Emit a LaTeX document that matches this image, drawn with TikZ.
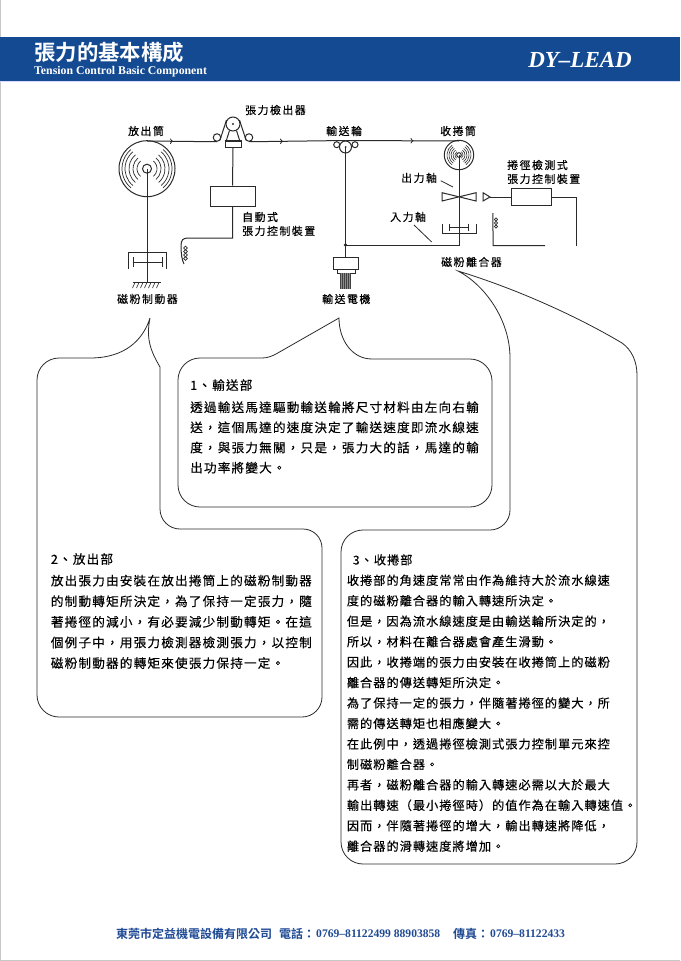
\documentclass[tikz,border=0pt]{standalone}
\usepackage{fontspec}
\setmainfont{Liberation Serif}
\newfontfamily\cjkhead{Noto Sans CJK TC Bold}
\newfontfamily\cjkfoot{Noto Sans CJK TC Bold}
\newfontfamily\cjklabel[LetterSpace=14,FakeBold=.35]{Noto Sans CJK TC}
\newfontfamily\cjkbody[LetterSpace=9.5,FakeBold=.25]{Noto Sans CJK TC}
\newfontfamily\cjkbodyb[LetterSpace=8.2,FakeBold=.25]{Noto Sans CJK TC}
\usetikzlibrary{arrows,decorations.markings}
\definecolor{bandblue}{HTML}{134A92}
\definecolor{footblue}{HTML}{1F4A94}
\definecolor{inkline}{HTML}{2A2A2A}
\tikzset{
  wire/.style={draw=inkline,line width=1pt},
  bubble/.style={draw=inkline,line width=.8pt},
  unit/.style={draw=inkline,line width=1pt,inner sep=0pt,fill=white},
  wheel/.style={circle,draw=inkline,line width=1pt,inner sep=0pt},
  lbl/.style={anchor=west,inner sep=0pt,text=black,font=\cjklabel\fontsize{10.9}{13}\selectfont},
  foot/.style={anchor=west,inner sep=0pt,text=footblue},
  para/.style={anchor=north west,inner sep=0pt,align=left,text=black,font=\cjkbody\fontsize{12.6}{#1}\selectfont},
  parab/.style={anchor=north west,inner sep=0pt,align=left,text=black,font=\cjkbodyb\fontsize{12.2}{20.45}\selectfont},
  flow/.style={decoration={markings,mark=at position #1 with {\arrow{>}}},postaction={decorate}}
}
\begin{document}
\begin{tikzpicture}[x=1pt,y=-1pt]
\useasboundingbox (0,0) rectangle (680,961);
\draw[black!22,line width=1pt] (.5,0)--(.5,961);
\draw[black!22,line width=1pt] (0,960.5)--(680,960.5);

% header
\fill[bandblue] (0,37) rectangle (680,81);
\draw[blue!15,line width=.6pt] (0,81.3)--(680,81.3);
\node[anchor=west,inner sep=0pt,text=white,font=\cjkhead\fontsize{21.4}{24}\selectfont] (title) at (34,52.5) {張力的基本構成};
\node[anchor=west,inner sep=0pt,text=white,font=\bfseries\fontsize{11.8}{13}\selectfont] (subtitle) at (34,71.5) {Tension Control Basic Component};
\node[anchor=east,inner sep=0pt,text=white,font=\bfseries\itshape\fontsize{23}{25}\selectfont] (brand) at (632,59.5) {DY–LEAD};

% pay-off side
\node[wheel,minimum size=56pt] (payoff) at (147,168.7) {};
\node[wheel,minimum size=9pt] (payoffhub) at (147,168.7) {};
\foreach \r in {10,14,18,22,25}{
  \draw[wire,line width=.7pt] (147,168.7) ++(-50:\r) arc[start angle=-50,end angle=50,radius=\r];
  \draw[wire,line width=.7pt] (147,168.7) ++(130:\r) arc[start angle=130,end angle=230,radius=\r];
}
\coordinate (brakefoot) at (147,282);
\draw[wire] (payoff.center)--(brakefoot);
\draw[wire] (128,269)--(128,252)--(166,252)--(166,269);
\draw[wire] (133,257)--(133,267);
\draw[wire] (162,257)--(162,267);
\draw[wire] (133,262)--(162,262);
\draw[wire] (133,282)--(161,282);
\foreach \x in {135,139,...,159}{
  \draw[wire,line width=.6pt] (\x,282.5)--(\x-2.5,288);
}

% tension detector
\node[wheel,minimum size=14pt] (sensor) at (233,124) {};
\fill[inkline] (sensor.center) circle (1.1);
\node[wheel,minimum size=7.5pt] (sensorl) at (217,137.5) {};
\node[wheel,minimum size=7.5pt] (sensorr) at (249,137.5) {};
\draw[wire] (220,140)--(226.5,120);
\draw[wire] (246,140)--(239.5,120);
\draw[wire] (229.5,130.5)--(226,141.5);
\draw[wire] (236.5,130.5)--(240,141.5);
\node[unit,minimum width=16pt,minimum height=6pt] (sensorblock) at (233,144.7) {};
\draw[inkline,line width=1.6pt] (sensorblock.north west)--(sensorblock.north east);
\node[unit,minimum width=45pt,minimum height=20pt] (autobox) at (232.5,196) {};
\draw[wire] (sensorblock.south)--(autobox.north);
\coordinate (coilend) at (184,264);
\draw[wire] (autobox.south)--(232.5,238)--(188,238) .. controls (183,238) and (181,240) .. (181,246) .. controls (181,254) and (182,260) .. (coilend);
\foreach \y in {248,251.5,255,258.5}{
  \draw[wire,line width=.7pt] (185.5,\y) circle (1.8);
}

% transfer roll and motor
\node[wheel,minimum size=12pt] (drive) at (345.5,147) {};
\fill[inkline] (drive.center) circle (1);
\node[wheel,minimum size=6pt] (drivel) at (336.7,144.7) {};
\node[wheel,minimum size=6pt] (driver) at (355,144.7) {};
\node[unit,minimum width=25pt,minimum height=12pt] (motor) at (345.5,263) {};
\node[unit,minimum width=18pt,minimum height=4pt] (motorneck) at (346,271) {};
\fill[black!45] (340,273) rectangle (351,289);
\foreach \x in {340,342,...,350}{
  \draw[black!75,line width=.6pt] (\x+.5,273)--(\x+.5,289);
}
\draw[wire] (drive.center)--(motor.north);
\coordinate (branch) at (345.5,245);
\fill[inkline] (branch) circle (1.8);

% web
\coordinate (webstart) at (147,141);
\coordinate (webend) at (459,141);
\draw[wire,flow=26pt] (webstart)--(sensorl.south);
\draw[wire,flow=34pt] (sensorr.south)--(drive.north);
\draw[wire,flow=68pt] (drive.north)--(webend);

% take-up side
\node[wheel,minimum size=29.4pt] (takeup) at (459,155) {};
\node[wheel,minimum size=4.6pt] (takeuphub) at (459,155) {};
\foreach \r in {4,6,8,10,12}{
  \draw[wire,line width=.6pt] (459,155) ++(-55:\r) arc[start angle=-55,end angle=55,radius=\r];
  \draw[wire,line width=.6pt] (459,155) ++(125:\r) arc[start angle=125,end angle=235,radius=\r];
}
\coordinate (clutchin) at (459,245);
\draw[wire] (takeup.center)--(clutchin)--(branch);
\draw[wire] (442,192.7)--(442,201)--(476,192.7)--(476,201)--cycle;
\draw[wire] (442,224)--(442,233.3)--(476.7,233.3)--(476.7,224);
\draw[wire] (449,223.5)--(449,231);
\draw[wire] (468,223.5)--(468,231);
\draw[wire] (449,227.3)--(468,227.3);
\draw[wire,line width=.8pt] (440.7,180.7)--(453,187);
\draw[wire,line width=.8pt] (414,225)--(431.7,242);

% diameter controller
\node[unit,minimum width=40pt,minimum height=17.7pt] (diabox) at (531,196.9) {};
\draw[wire] (483,192.7)--(483,201)--(490,197)--cycle;
\draw[wire] (490,197)--(diabox.west |- 0,197);
\coordinate (diaout) at (576.7,197);
\draw[wire] (diabox.east |- 0,197)--(diaout)--(576.7,245.7);
\coordinate (coilb) at (493,213);
\draw[wire] (545,245.7)--(493,245.7)--(493,231) .. controls (492.5,224) and (493,218) .. (coilb);
\foreach \y in {219.5,223,226.5}{
  \draw[wire,line width=.7pt] (496,\y) circle (1.7);
}

% labels
\node[lbl] (lbsensor) at (245,110) {張力檢出器};
\node[lbl] (lbpayoff) at (128,131) {放出筒};
\node[lbl] (lbbrake) at (117,299) {磁粉制動器};
\node[lbl] (lbauto) at (242,217) {自動式};
\node[lbl] (lbautob) at (242,231) {張力控制裝置};
\node[lbl] (lbdrive) at (326,131) {輸送輪};
\node[lbl] (lbmotor) at (322,299) {輸送電機};
\node[lbl] (lbtakeup) at (440,131) {收捲筒};
\node[lbl] (lbout) at (401,178) {出力軸};
\node[lbl] (lbin) at (390,217) {入力軸};
\node[lbl] (lbdia) at (507,165) {捲徑檢測式};
\node[lbl] (lbdiab) at (507,179) {張力控制裝置};
\node[lbl] (lbclutch) at (441,262) {磁粉離合器};

% callouts
\draw[bubble] (178,380) arc[start angle=180,end angle=270,radius=22]--(262,358) .. controls (268,358) and (272,356) .. (276,354)--(339,318) .. controls (339,340) and (352,359) .. (372,359)--(470,359) arc[start angle=270,end angle=360,radius=22]--(492,485) arc[start angle=0,end angle=90,radius=22]--(200,507) arc[start angle=90,end angle=180,radius=22]--cycle;

\draw[bubble] (37,380) arc[start angle=180,end angle=270,radius=22]--(90,358) .. controls (125,358) and (143,340) .. (150,318) .. controls (146,338) and (150,350) .. (160,367)--(160,509) arc[start angle=180,end angle=90,radius=20]--(303,529) arc[start angle=270,end angle=360,radius=19]--(322,697) arc[start angle=0,end angle=90,radius=20]--(59,717) arc[start angle=90,end angle=180,radius=22]--cycle;

\draw[bubble] (341,552) arc[start angle=180,end angle=270,radius=22]--(490,530) arc[start angle=90,end angle=0,radius=20]--(510,358) .. controls (510,320) and (485,285) .. (458,271) .. controls (520,290) and (580,318) .. (622,343) .. controls (632,350) and (637,362) .. (637,375)--(637,842) arc[start angle=0,end angle=90,radius=22]--(363,864) arc[start angle=90,end angle=180,radius=22]--cycle;

% callout texts
\node[para=20.15] (parafeed) at (190,379) {1、輸送部\\[2pt]
透過輸送馬達驅動輸送輪將尺寸材料由左向右輸\\
送，這個馬達的速度決定了輸送速度即流水線速\\
度，與張力無關，只是，張力大的話，馬達的輸\\
出功率將變大。};
\node[para=20.6] (parapay) at (50.7,553) {2、放出部\\[1pt]
放出張力由安裝在放出捲筒上的磁粉制動器\\
的制動轉矩所決定，為了保持一定張力，隨\\
著捲徑的減小，有必要減少制動轉矩。在這\\
個例子中，用張力檢測器檢測張力，以控制\\
磁粉制動器的轉矩來使張力保持一定。};
\node[parab] (paratake) at (346.7,554) {\hspace*{6pt}3、收捲部\\
收捲部的角速度常常由作為維持大於流水線速\\
度的磁粉離合器的輸入轉速所決定。\\
但是，因為流水線速度是由輸送輪所決定的，\\
所以，材料在離合器處會產生滑動。\\
因此，收捲端的張力由安裝在收捲筒上的磁粉\\
離合器的傳送轉矩所決定。\\
為了保持一定的張力，伴隨著捲徑的變大，所\\
需的傳送轉矩也相應變大。\\
在此例中，透過捲徑檢測式張力控制單元來控\\
制磁粉離合器。\\
再者，磁粉離合器的輸入轉速必需以大於最大\\
輸出轉速（最小捲徑時）的值作為在輸入轉速值。\\
因而，伴隨著捲徑的增大，輸出轉速將降低，\\
離合器的滑轉速度將增加。};

% footer
\node[foot,font=\cjkfoot\fontsize{12}{14}\selectfont] (company) at (116,934) {東莞市定益機電設備有限公司};
\node[foot,font=\cjkfoot\fontsize{12}{14}\selectfont] (tellbl) at (279,934) {電話：};
\node[foot,font=\bfseries\fontsize{11.6}{14}\selectfont] (telnum) at (316,934) {0769–81122499 88903858};
\node[foot,font=\cjkfoot\fontsize{12}{14}\selectfont] (faxlbl) at (453,934) {傳真：};
\node[foot,font=\bfseries\fontsize{11.6}{14}\selectfont] (faxnum) at (490,934) {0769–81122433};
\end{tikzpicture}
\end{document}
